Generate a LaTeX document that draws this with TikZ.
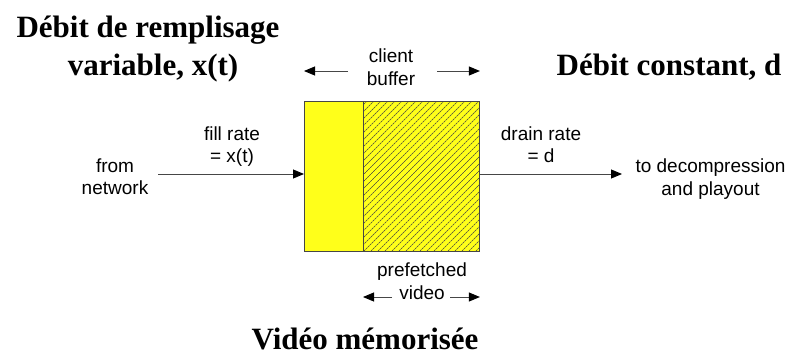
\documentclass[tikz,border=0pt]{standalone}
\usepackage{fontspec}
\setmainfont{Liberation Serif}
\setsansfont{Liberation Sans}
\usetikzlibrary{arrows.meta}
\definecolor{bufyellow}{RGB}{255,255,26}
\definecolor{edgegray}{RGB}{70,70,70}
\tikzset{
  lbl/.style={font=\sffamily\fontsize{19}{22.5}\selectfont, align=center, inner sep=0pt, anchor=base},
  title/.style={font=\bfseries\fontsize{31}{36}\selectfont, inner sep=0pt, anchor=base},
  flow/.style={draw=edgegray, line width=0.9pt, -{Triangle[length=11pt,width=9pt,color=black]}},
  cell/.style={draw=edgegray, line width=0.9pt, fill=bufyellow, minimum height=150pt, inner sep=0pt, anchor=north west},
}
\begin{document}
\begin{tikzpicture}[x=1pt,y=-1pt]
\useasboundingbox (0,0) rectangle (792,356);

% buffer: empty part and prefetched part
\node[cell, minimum width=59pt] (free) at (304,101) {};
\node[cell, minimum width=116pt] (pre) at (363,101) {};
\begin{scope}
  \clip (pre.north west) rectangle (pre.south east);
  \foreach \k in {-160,-153,...,130}
    \draw[black!75, line width=0.5pt, dash pattern=on 2.2pt off 0.6pt] (363+\k,251) -- (363+\k+150,101);
\end{scope}
\draw[edgegray, line width=0.9pt] (free.north west) rectangle (pre.south east);
\draw[edgegray, line width=0.9pt] (pre.north west) -- (pre.south west);

% titles
\node[title] (t1) at (148,37) {Débit de remplisage};
\node[title] (t2) at (153,75) {variable, x(t)};
\node[title] (t3) at (669,75) {Débit constant, d};
\node[title, text depth=0pt] (t4) at (365,349.5) {Vidéo mémorisée};

% labels (anchored at the baseline of their last line)
\node[lbl] (src) at (115,194.5) {from\\network};
\node[lbl] (fill) at (232,162.5) {fill rate\\= x(t)};
\node[lbl] (drain) at (541,162.5) {drain rate\\= d};
\node[lbl] (dst) at (710.5,195) {to decompression\\and playout};
\node[lbl] (client) at (391,85) {client\\buffer};
\node[lbl] (pref) at (422,299) {prefetched\\video};

% flows
\coordinate (inS) at (158,174);
\coordinate (outE) at (622,174);
\draw[flow] (inS) -- (inS -| free.west);
\draw[flow] (outE -| pre.east) -- (outE);

% extent arrows
\coordinate (cl) at (348,71);
\coordinate (cr) at (437,71);
\draw[flow] (cl) -- (cl -| free.west);
\draw[flow] (cr) -- (cr -| pre.east);
\coordinate (pl) at (392,297);
\coordinate (pr) at (450,297);
\draw[flow] (pl) -- (pl -| pre.west);
\draw[flow] (pr) -- (pr -| pre.east);
\end{tikzpicture}
\end{document}
